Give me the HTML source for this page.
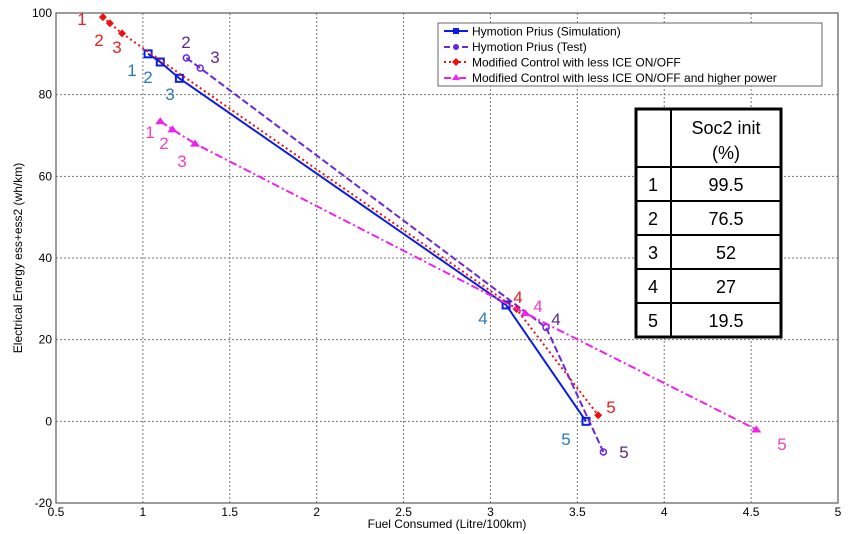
<!DOCTYPE html>
<html><head><meta charset="utf-8"><style>
body{margin:0;background:#fff;}
svg{display:block;font-family:"Liberation Sans",Arial,sans-serif;}
</style></head><body>
<svg id="chart" width="850" height="534" viewBox="0 0 850 534">
<g id="grid"></g>
<g id="axes"></g>
<g id="series"></g>
<g id="labels"></g>
<text x="447" y="528" font-size="12" text-anchor="middle">Fuel Consumed (Litre/100km)</text>
<text transform="translate(22,258) rotate(-90)" font-size="12" text-anchor="middle">Electrical Energy ess+ess2 (wh/km)</text>
<g>
<rect x="438" y="23" width="384" height="63" fill="#fff" stroke="#666" stroke-width="1"/>
<g><line x1="444" y1="31" x2="468" y2="31" stroke="#0a1ee0" stroke-width="2"/><rect x="453" y="28" width="6" height="6" fill="#0a1ee0"/><text x="472" y="35.5" font-size="12">Hymotion Prius (Simulation)</text></g>
<g><line x1="444" y1="47" x2="468" y2="47" stroke="#6a28d8" stroke-width="2" stroke-dasharray="6,3"/><circle cx="456" cy="47" r="3" fill="#6a28d8"/><text x="472" y="51" font-size="12">Hymotion Prius (Test)</text></g>
<g><line x1="444" y1="62" x2="468" y2="62" stroke="#f01010" stroke-width="2" stroke-dasharray="2,3"/><path d="M456 58 L460 62 L456 66 L452 62Z" fill="#f01010"/><text x="472" y="66.5" font-size="12">Modified Control with less ICE ON/OFF</text></g>
<g><line x1="444" y1="78" x2="468" y2="78" stroke="#f020f0" stroke-width="2" stroke-dasharray="7,3,2,3"/><path d="M456 74 L460 80 L452 80Z" fill="#f020f0"/><text x="472" y="82" font-size="12">Modified Control with less ICE ON/OFF and higher power</text></g>
</g>
<g font-size="18" text-anchor="middle">
<rect x="636" y="109" width="145" height="228" fill="#fff" stroke="#000" stroke-width="3"/>
<line x1="671" y1="109" x2="671" y2="337" stroke="#000" stroke-width="2"/>
<line x1="636" y1="167" x2="781" y2="167" stroke="#000" stroke-width="2"/>
<line x1="636" y1="201" x2="781" y2="201" stroke="#000" stroke-width="2"/>
<line x1="636" y1="235" x2="781" y2="235" stroke="#000" stroke-width="2"/>
<line x1="636" y1="269" x2="781" y2="269" stroke="#000" stroke-width="2"/>
<line x1="636" y1="303" x2="781" y2="303" stroke="#000" stroke-width="2"/>
<text x="726" y="134">Soc2 init</text><text x="726" y="159">(%)</text>
<text x="653" y="191">1</text><text x="726" y="191">99.5</text>
<text x="653" y="225">2</text><text x="726" y="225">76.5</text>
<text x="653" y="259">3</text><text x="726" y="259">52</text>
<text x="653" y="293">4</text><text x="726" y="293">27</text>
<text x="653" y="327">5</text><text x="726" y="327">19.5</text>
</g>
</svg>
<script>
const xTicks=[0.5,1,1.5,2,2.5,3,3.5,4,4.5,5];
const xTickLabels=["0.5","1","1.5","2","2.5","3","3.5","4","4.5","5"];
const yTicks=[-20,0,20,40,60,80,100];
const yTickLabels=["-20","0","20","40","60","80","100"];
const simX=[1.03,1.1,1.21,3.09,3.55];
const simY=[90,88,84,28.5,0];
const testX=[1.25,1.33,3.32,3.65];
const testY=[89,86.5,23,-7.5];
const modX=[0.77,0.81,0.88,3.15,3.62];
const modY=[99,97.5,95,27.5,1.5];
const hpX=[1.1,1.17,1.3,3.2,4.53];
const hpY=[73.5,71.5,68,26.5,-2];

const L=56,R=838,T=13,B=503;
function sx(v){return L+(v-0.5)/(5-0.5)*(R-L);}
function sy(v){return B-(v+20)/(100+20)*(B-T);}
const NS="http://www.w3.org/2000/svg";
function mk(tag,attrs,parent){const e=document.createElementNS(NS,tag);for(const k in attrs)e.setAttribute(k,attrs[k]);parent.appendChild(e);return e;}
const grid=document.getElementById('grid'),axes=document.getElementById('axes'),series=document.getElementById('series'),labels=document.getElementById('labels');
xTicks.forEach((t,i)=>{
  const x=sx(t);
  if(i>0&&i<xTicks.length-1){const g=mk('line',{x1:x,y1:T,x2:x,y2:B,stroke:'#777','stroke-dasharray':'2,2','stroke-width':1},grid);
  
  }
  const tx=mk('text',{x:x,y:B+13,'font-size':12,'text-anchor':'middle'},axes);
  tx.textContent=xTickLabels[i];
  
  
});
yTicks.forEach((t,i)=>{
  const y=sy(t);
  if(i>0&&i<yTicks.length-1){const g=mk('line',{x1:L,y1:y,x2:R,y2:y,stroke:'#777','stroke-dasharray':'2,2','stroke-width':1},grid);
  
  }
  const tx=mk('text',{x:L-4,y:y+4,'font-size':12,'text-anchor':'end'},axes);
  tx.textContent=yTickLabels[i];
  
  
});
const frame=mk('rect',{x:L,y:T,width:R-L,height:B-T,fill:'none',stroke:'#666','stroke-width':1.3},axes);



function drawSeries(xs,ys,color,dash,marker,name){
  const pts=xs.map((v,i)=>sx(v)+','+sy(ys[i])).join(' ');
  const pl=mk('polyline',{points:pts,fill:'none',stroke:color,'stroke-width':2,'stroke-dasharray':dash},series);
  
  
  xs.forEach((v,i)=>{
    const x=sx(v),y=sy(ys[i]);let m;
    if(marker==='sq')m=mk('rect',{x:x-3.5,y:y-3.5,width:7,height:7,fill:'none',stroke:color,'stroke-width':2},series);
    else if(marker==='ci')m=mk('circle',{cx:x,cy:y,r:3,fill:'none',stroke:color,'stroke-width':1.5},series);
    else if(marker==='di')m=mk('path',{d:`M${x} ${y-4}L${x+4} ${y}L${x} ${y+4}L${x-4} ${y}Z`,fill:color},series);
    else m=mk('path',{d:`M${x} ${y-4}L${x+5} ${y+3}L${x-5} ${y+3}Z`,fill:color},series);
    
    
  });
}
drawSeries(simX,simY,'#0a1ee0','none','sq','simulation');
drawSeries(testX,testY,'#6a28d8','7,3','ci','test');
drawSeries(modX,modY,'#f01010','2,3','di','modified');
drawSeries(hpX,hpY,'#f020f0','8,3,2,3','tr','higher-power');

const pl=[
 ['1',82,25,'#e82020'],['2',99,46,'#e82020'],['3',117,53,'#e82020'],['4',518,303,'#e82020'],['5',611,413,'#e82020'],
 ['1',132,76,'#2a7ab8'],['2',148,83,'#2a7ab8'],['3',170,100,'#2a7ab8'],['4',483,324,'#2a7ab8'],['5',566,445,'#2a7ab8'],
 ['2',186,48,'#5a2a90'],['3',215,63,'#5a2a90'],['4',556,325,'#5a2a90'],['5',624,458,'#5a2a90'],
 ['1',150,138,'#f040c0'],['2',164,149,'#f040c0'],['3',182,167,'#f040c0'],['4',538,312,'#f040c0'],['5',782,450,'#f040c0']
];
pl.forEach(p=>{
  const t=mk('text',{x:p[1],y:p[2],'font-size':17,'text-anchor':'middle',fill:p[3]},labels);
  t.textContent=p[0];
  
  
});
</script>
</body></html>
